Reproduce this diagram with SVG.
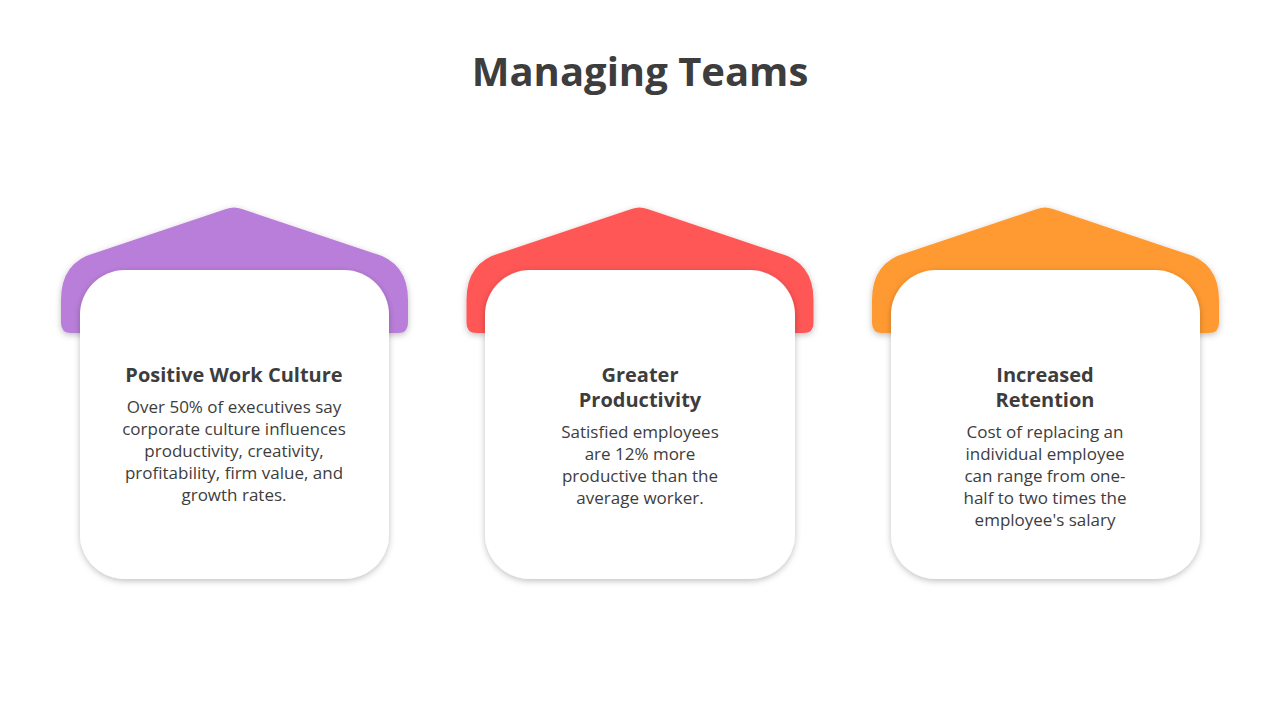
<svg xmlns="http://www.w3.org/2000/svg" width="1280" height="720" viewBox="0 0 1280 720">
<defs>
<filter id="sh" x="-20%" y="-20%" width="140%" height="140%"><feDropShadow dx="0" dy="2" stdDeviation="3" flood-color="#000" flood-opacity="0.25"/></filter>
<path id="roof" d="M61,323 V300 Q61,262 95,253 L226,209 Q234,206 242,209 L373,253 Q408,262 408,300 V323 Q408,333 398,333 H71 Q61,333 61,323 Z"/>
</defs>
<style>
.t{font-family:"Open Sans","Noto Sans",sans-serif;fill:#3d3d3d;text-anchor:middle}
.h{font-size:20px;font-weight:bold}
.b{font-size:17px}
.card{fill:#fff;filter:url(#sh)}
</style>
<rect width="1280" height="720" fill="#fff"/>
<text x="640" y="86" class="t" style="font-size:40px;font-weight:bold">Managing Teams</text>
<g id="node1">
<use href="#roof" fill="#b97ed9" filter="url(#sh)"/>
<rect class="card" x="80" y="270" width="309" height="309" rx="45"/>
<text class="t h" x="234" y="382">Positive Work Culture</text>
<text class="t b"><tspan x="234" y="413">Over 50% of executives say</tspan><tspan x="234" y="435">corporate culture influences</tspan><tspan x="234" y="457">productivity, creativity,</tspan><tspan x="234" y="479">profitability, firm value, and</tspan><tspan x="234" y="501">growth rates.</tspan></text>
</g>
<g id="node2">
<use href="#roof" fill="#ff5757" filter="url(#sh)" transform="translate(405.5,0)"/>
<rect class="card" x="485" y="270" width="310" height="309" rx="45"/>
<text class="t h"><tspan x="640" y="382">Greater</tspan><tspan x="640" y="407">Productivity</tspan></text>
<text class="t b"><tspan x="640" y="438">Satisfied employees</tspan><tspan x="640" y="460">are 12% more</tspan><tspan x="640" y="482">productive than the</tspan><tspan x="640" y="504">average worker.</tspan></text>
</g>
<g id="node3">
<use href="#roof" fill="#ff9a33" filter="url(#sh)" transform="translate(811,0)"/>
<rect class="card" x="891" y="270" width="309" height="309" rx="45"/>
<text class="t h"><tspan x="1045" y="382">Increased</tspan><tspan x="1045" y="407">Retention</tspan></text>
<text class="t b"><tspan x="1045" y="438">Cost of replacing an</tspan><tspan x="1045" y="460">individual employee</tspan><tspan x="1045" y="482">can range from one-</tspan><tspan x="1045" y="504">half to two times the</tspan><tspan x="1045" y="526">employee's salary</tspan></text>
</g>
<g id="connectors"/>
</svg>
